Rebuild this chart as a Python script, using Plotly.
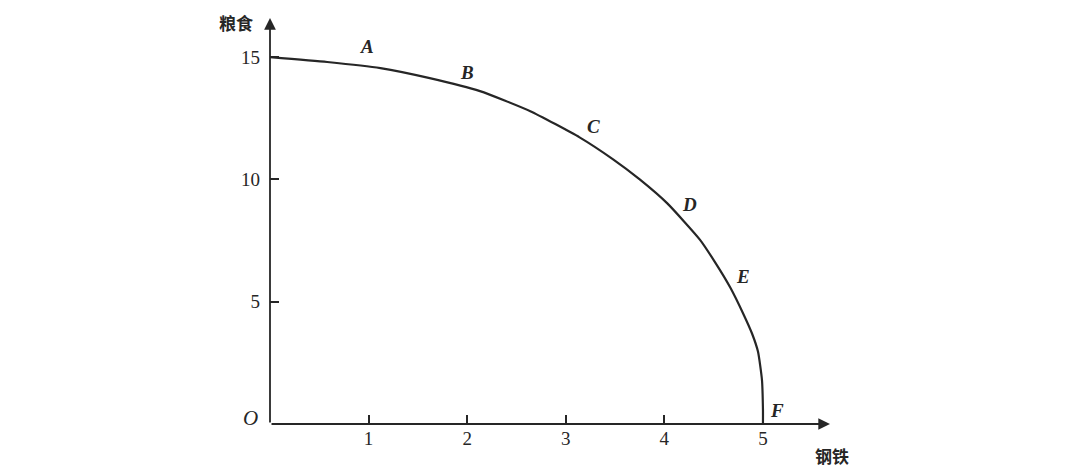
import plotly.graph_objects as go

# production possibility frontier
steel = [0, 0.58, 1.12, 1.62, 2.13, 2.64, 3.14, 3.48, 3.75, 4.03, 4.36, 4.51, 4.67,
         4.80, 4.89, 4.95, 4.99, 5.0, 5.0]
grain = [15, 14.80, 14.55, 14.14, 13.61, 12.79, 11.72, 10.82, 10.0, 9.02, 7.54, 6.64, 5.57,
         4.51, 3.69, 2.95, 1.80, 0.57, 0]

# point labels A-F
point_names = ["A", "B", "C", "D", "E", "F"]
point_x = [0.98, 2.0, 3.28, 4.25, 4.80, 5.14]
point_y = [15.45, 14.39, 12.17, 8.98, 6.02, 0.57]

x_ticks = [1, 2, 3, 4, 5]
y_ticks = [5, 10, 15]

ink = "#262626"
serif = "Liberation Serif"

fig = go.Figure()

fig.add_trace(go.Scatter(x=steel, y=grain, mode="lines",
                         line=dict(color=ink, width=2.2, shape="spline", smoothing=0.5),
                         showlegend=False, hoverinfo="skip"))

# letters on the curve
for name, px, py in zip(point_names, point_x, point_y):
    fig.add_annotation(x=px, y=py, text="<b><i>" + name + "</i></b>", showarrow=False,
                       font=dict(family=serif, size=19, color=ink))

# origin
fig.add_annotation(x=0, y=0, xshift=-20, yshift=6, text="<i>O</i>", showarrow=False,
                   font=dict(family=serif, size=21, color=ink))

# axes with arrows
fig.add_annotation(x=5.68, y=0, ax=0, ay=0, axref="x", ayref="y", text="",
                   showarrow=True, arrowhead=2, arrowsize=1.3, arrowwidth=1.8, arrowcolor=ink)
fig.add_annotation(x=0, y=16.6, ax=0, ay=0, axref="x", ayref="y", text="",
                   showarrow=True, arrowhead=2, arrowsize=1.3, arrowwidth=1.8, arrowcolor=ink)

# axis names
fig.add_annotation(x=0, y=16.6, xshift=-34, yshift=-4, text="<b>粮食</b>", showarrow=False,
                   font=dict(family="Noto Sans CJK SC", size=17, color=ink))
fig.add_annotation(x=5.68, y=0, xshift=2, yshift=-31, text="<b>钢铁</b>", showarrow=False,
                   font=dict(family="Noto Sans CJK SC", size=17, color=ink))

fig.update_layout(
    width=1073, height=467,
    margin=dict(l=262, r=251, t=10, b=51),
    plot_bgcolor="white", paper_bgcolor="white",
    xaxis=dict(range=[0, 5.68], tickvals=x_ticks, ticks="inside", ticklen=9, tickwidth=1.5,
               tickcolor=ink, showgrid=False, zeroline=False, showline=False,
               tickfont=dict(family=serif, size=19, color=ink), ticklabelstandoff=1),
    yaxis=dict(range=[0, 16.6], tickvals=y_ticks, ticks="inside", ticklen=9, tickwidth=1.5,
               tickcolor=ink, showgrid=False, zeroline=False, showline=False,
               tickfont=dict(family=serif, size=19, color=ink), ticklabelstandoff=9),
)

fig.write_html("out.html")
